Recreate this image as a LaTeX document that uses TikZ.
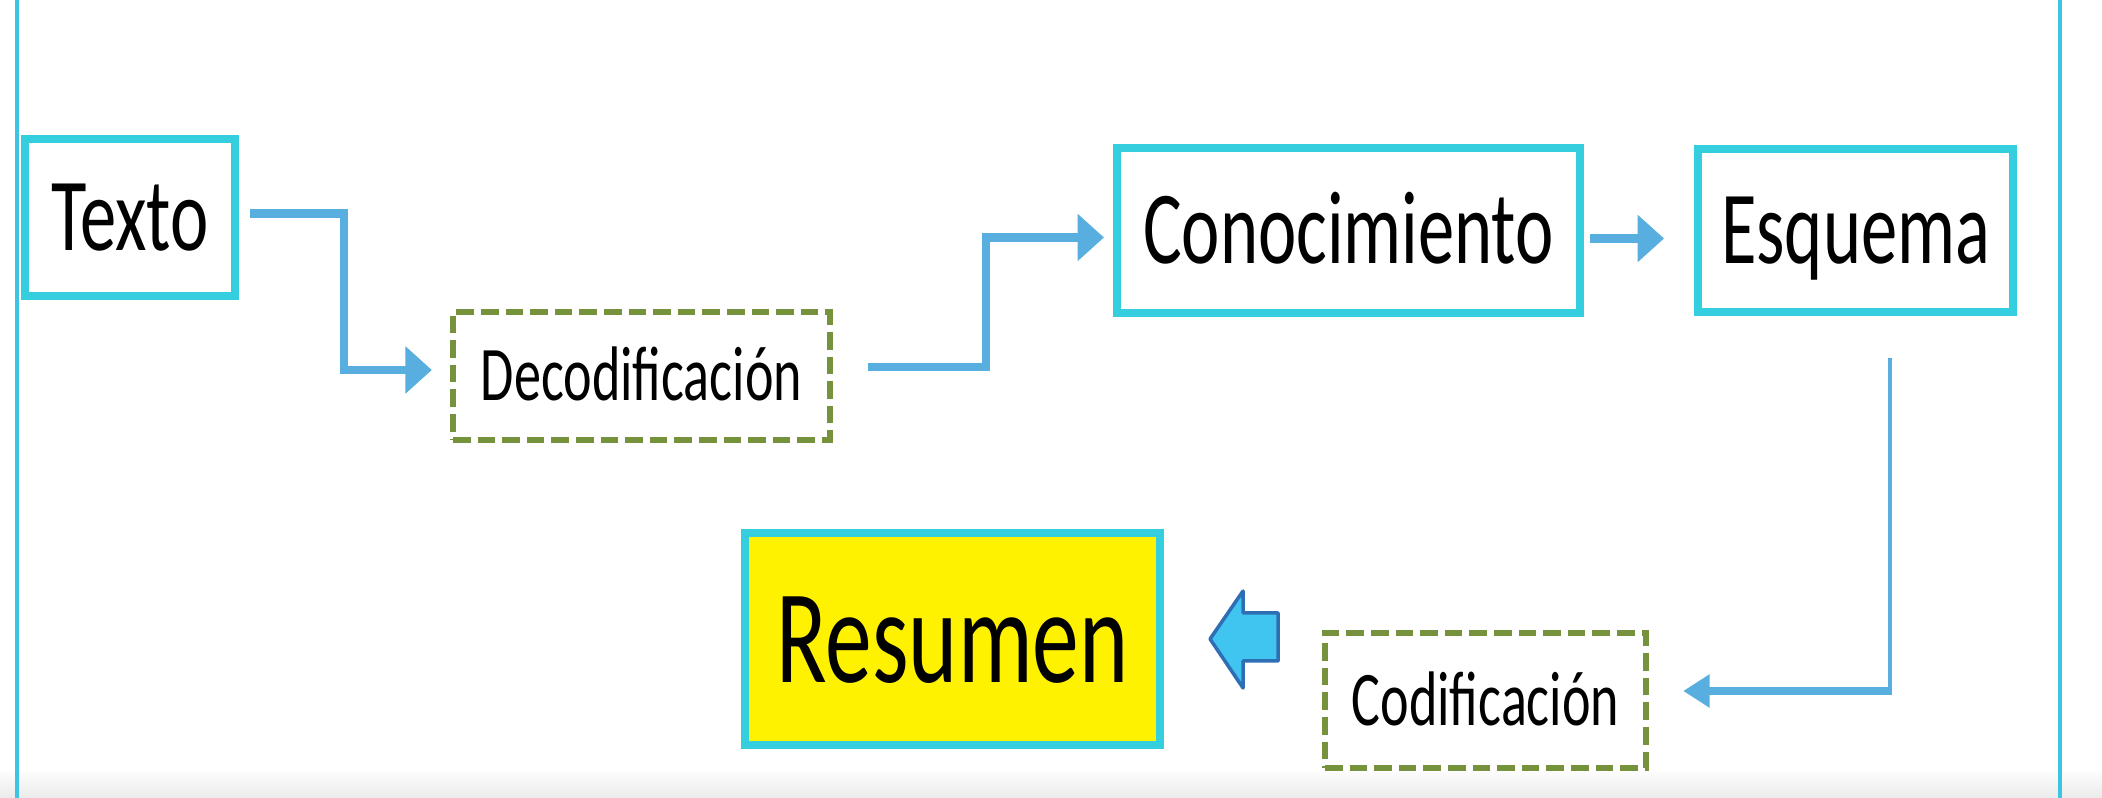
\documentclass[tikz,border=0pt]{standalone}
\usepackage{fontspec}
\setmainfont{Carlito}
\usepackage{graphicx}
\usepackage{tikz}
\usetikzlibrary{arrows.meta,positioning}

\definecolor{cian}{RGB}{52,206,222}
\definecolor{oliva}{RGB}{118,146,60}
\definecolor{flechaazul}{RGB}{88,174,222}
\definecolor{relleno}{RGB}{64,196,240}
\definecolor{bordeazul}{RGB}{46,110,180}
\definecolor{marco}{RGB}{60,196,226}

\newcommand{\nar}[1]{\scalebox{0.7}[1]{#1}}

\begin{document}
\begin{tikzpicture}[>={Triangle[length=7.5pt,width=13pt]},
  caja/.style={draw=cian,line width=2.3pt,inner sep=0pt,font=\fontsize{29.5}{35}\selectfont,text height=19pt,text depth=0pt},
  punteada/.style={draw=oliva,line width=1.8pt,dash pattern=on 5pt off 2pt,inner sep=0pt,font=\fontsize{22}{26}\selectfont,text height=14.2pt,text depth=0pt},
  conector/.style={->,draw=flechaazul,line width=2.4pt}]
  \useasboundingbox (0,0) rectangle (21.02,7.98);
  \shade[top color=gray!3,bottom color=gray!16] (0,0) rectangle (21.02,0.25);
  \draw[marco,line width=1.4pt] (0.17,0) -- (0.17,7.98);
  \draw[marco,line width=1.2pt] (20.60,0) -- (20.60,7.98);

  \node[caja,minimum width=2.10cm,minimum height=1.57cm] (texto) at (1.30,5.805) {\nar{Texto}};
  \node[punteada,minimum width=3.77cm,minimum height=1.28cm] (deco) at (6.415,4.22) {\nar{Decodificación}};
  \node[caja,minimum width=4.63cm,minimum height=1.65cm] (conoc) at (13.485,5.675) {\nar{Conocimiento}};
  \node[caja,minimum width=3.15cm,minimum height=1.63cm,right=1.10cm of conoc] (esq) {\nar{Esquema}};
  \node[punteada,minimum width=3.21cm,minimum height=1.35cm] (codif) at (14.855,0.975) {\nar{Codificación}};
  \node[caja,fill=yellow,minimum width=4.15cm,minimum height=2.12cm,font=\fontsize{38}{44}\selectfont,text height=24.5pt] (resumen) at (9.525,1.59) {\nar{Resumen}};

  \draw[conector] ([xshift=0.11cm,yshift=0.04cm]texto.east) -- ++(0.94,0) |- ([xshift=-0.18cm,yshift=0.06cm]deco.west);
  \draw[conector] ([xshift=0.35cm,yshift=0.09cm]deco.east) -- ++(1.18,0) |- ([xshift=-0.09cm,yshift=-0.07cm]conoc.west);
  \draw[conector] ([xshift=0.06cm,yshift=-0.08cm]conoc.east) -- ([xshift=-0.30cm,yshift=-0.08cm]esq.west);

  \coordinate (codo) at (18.90,1.07);
  \draw[flechaazul,line width=1.1pt] ([yshift=-0.42cm]esq.south -| codo) -- (codo);
  \draw[conector,-{Triangle[length=7.5pt,width=9pt]}] ([xshift=0.02cm]codo) -- ([xshift=0.34cm]codif.east |- codo);

  \draw[bordeazul,fill=relleno,line width=1pt,line join=round] ([xshift=0.46cm]resumen.east) -- ++(0.33,0.48) -- ++(0,-0.22) -- ++(0.35,0) -- ++(0,-0.48) -- ++(-0.35,0) -- ++(0,-0.27) -- cycle;
\end{tikzpicture}
\end{document}
